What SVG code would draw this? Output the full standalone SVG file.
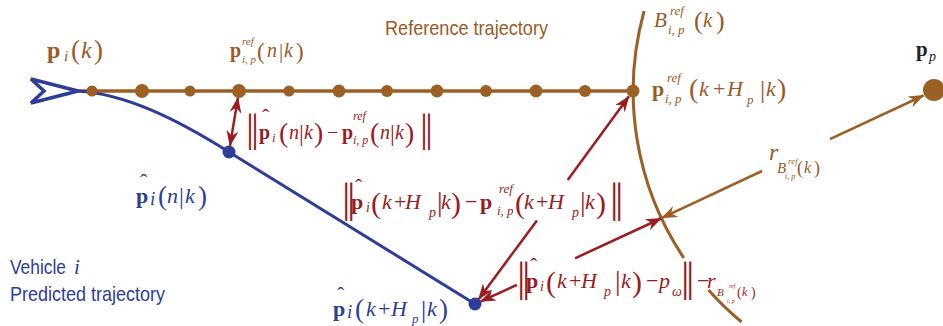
<svg xmlns="http://www.w3.org/2000/svg" width="943" height="326" viewBox="0 0 943 326">
<style>
.m{font-family:"Liberation Serif","Times New Roman",serif;}
.s{font-family:"Liberation Sans Narrow","Liberation Sans",Arial,sans-serif;}
.b{font-weight:bold;font-style:normal;}
.it{font-style:italic;}
.br{fill:#9a5b26;}
.rd{fill:#9b1c22;}
.bl{fill:#2e3e98;}
.bk{fill:#222;}
.lbr{stroke:#9c5f24;stroke-width:3.5;fill:none;}
.lbl{stroke:#2e3e98;stroke-width:3;fill:none;}
.lrd{stroke:#9b1c22;stroke-width:2.5;fill:none;}
.lbrn{stroke:#9c5f24;stroke-width:2.5;fill:none;}
</style>
<defs>
<marker id="ar" markerUnits="userSpaceOnUse" markerWidth="17" markerHeight="12" refX="15" refY="6" orient="auto-start-reverse" viewBox="0 0 17 12">
<path d="M0,0 L16,6 L0,12 L5,6 z" fill="#9b1c22"/>
</marker>
<marker id="ab" markerUnits="userSpaceOnUse" markerWidth="17" markerHeight="12" refX="15" refY="6" orient="auto-start-reverse" viewBox="0 0 17 12">
<path d="M0,0 L16,6 L0,12 L5,6 z" fill="#9c5f24"/>
</marker>
</defs>

<g id="reference-trajectory">
<line class="lbr" x1="78" y1="91" x2="633" y2="91"/>
</g>
<g id="predicted-trajectory">
<path class="lbl" d="M78,91 C125,94 175,118 229,152 L475,304"/>
</g>
<g id="boundary">
<path class="lbr" style="stroke-width:3" d="M644.1,11 A300,300 0 0 0 683.8,258"/>
<path class="lbr" style="stroke-width:3" d="M708.5,290 A300,300 0 0 0 741.6,322"/>
</g>
<g id="ref-points" fill="#9c5f24">
<circle cx="92" cy="91" r="5.5"/>
<circle cx="142" cy="91" r="7"/>
<circle cx="190" cy="91" r="5.5"/>
<circle cx="239" cy="91" r="7"/>
<circle cx="289" cy="91" r="5.5"/>
<circle cx="339" cy="91" r="6.5"/>
<circle cx="387" cy="91" r="6"/>
<circle cx="437" cy="91" r="6.5"/>
<circle cx="486" cy="91" r="6"/>
<circle cx="536" cy="91" r="6.5"/>
<circle cx="585" cy="91" r="6"/>
<circle cx="633" cy="91" r="6.5"/>
</g>
<g id="obstacle">
<circle cx="934" cy="90" r="11" fill="#9c5f24"/>
</g>
<g id="predicted-points" fill="#2e3e98">
<circle cx="229" cy="152" r="6.5"/>
<circle cx="475" cy="304" r="6.5"/>
</g>
<g id="vehicle">
<polygon points="31,79 78,91 31,103 44,91" fill="#fff" stroke="#2e3e98" stroke-width="3.5" stroke-linejoin="miter"/>
</g>

<g id="connectors">
<line class="lrd" x1="237.9" y1="97.9" x2="230" y2="145.6" marker-start="url(#ar)" marker-end="url(#ar)"/>
<line class="lrd" x1="567.7" y1="180" x2="628.8" y2="96.6" marker-end="url(#ar)"/>
<line class="lrd" x1="537" y1="220.4" x2="478.8" y2="298.9" marker-end="url(#ar)"/>
<line class="lrd" x1="517" y1="284.8" x2="480.8" y2="301.4" marker-end="url(#ar)"/>
<line class="lrd" x1="575" y1="258.3" x2="661" y2="218.5" marker-end="url(#ar)"/>
<line class="lbrn" x1="830" y1="139.2" x2="923.5" y2="95.5" marker-end="url(#ab)"/>
<line class="lbrn" x1="762" y1="171" x2="662" y2="217.8" marker-end="url(#ab)"/>
</g>

<g id="label-reference">
<text class="s br" x="385" y="35" font-size="21" textLength="163" lengthAdjust="spacingAndGlyphs">Reference trajectory</text>
</g>
<g id="label-vehicle">
<text class="s bl" x="10" y="274" font-size="21" textLength="56" lengthAdjust="spacingAndGlyphs">Vehicle</text>
<text class="m it bl" x="74" y="274" font-size="21" font-family="'Liberation Serif', serif">i</text>
<text class="s bl" x="10" y="301" font-size="21" textLength="155" lengthAdjust="spacingAndGlyphs">Predicted trajectory</text>
</g>

<g id="label-pi">
<text class="m br" font-family="'Liberation Serif', serif" font-size="24"><tspan class="b" x="47" y="58">p</tspan><tspan class="it" x="64" y="61" font-size="15">i</tspan><tspan x="71" y="59" font-size="27">(</tspan><tspan class="it" x="81" y="58">k</tspan><tspan x="94" y="59" font-size="27">)</tspan></text>
</g>
<g id="label-pref-n">
<text class="m br" font-family="'Liberation Serif', serif" font-size="20"><tspan class="b" x="230" y="57">p</tspan><tspan class="it" x="242" y="45" font-size="11">ref</tspan><tspan class="it" x="242" y="63" font-size="11">i, p</tspan><tspan x="257" y="59" font-size="23">(</tspan><tspan class="it" x="267" y="57">n</tspan><tspan x="279" y="58" font-size="21">|</tspan><tspan class="it" x="284" y="57">k</tspan><tspan x="296" y="59" font-size="23">)</tspan></text>
</g>
<g id="label-B">
<text class="m br" font-family="'Liberation Serif', serif" font-size="21"><tspan class="it" x="654" y="27">B</tspan><tspan class="it" x="670" y="15" font-size="13">ref</tspan><tspan class="it" x="668" y="34" font-size="13">i, p</tspan><tspan x="694" y="29" font-size="26">(</tspan><tspan class="it" x="703" y="27">k</tspan><tspan x="716" y="29" font-size="26">)</tspan></text>
</g>
<g id="label-pref-H">
<text class="m br" font-family="'Liberation Serif', serif" font-size="22"><tspan class="b" x="652" y="96">p</tspan><tspan class="it" x="667" y="82" font-size="13">ref</tspan><tspan class="it" x="665" y="103" font-size="13">i, p</tspan><tspan x="689" y="98" font-size="28">(</tspan><tspan class="it" x="699" y="96">k</tspan><tspan x="713" y="96">+</tspan><tspan class="it" x="727" y="96">H</tspan><tspan class="it" x="747" y="104" font-size="13">p</tspan><tspan x="760" y="98" font-size="26">|</tspan><tspan class="it" x="766" y="96">k</tspan><tspan x="777" y="98" font-size="28">)</tspan></text>
</g>
<g id="label-pp">
<text class="m bk" font-family="'Liberation Serif', serif" font-size="21"><tspan class="b" x="916" y="56">p</tspan><tspan class="it" x="929" y="61" font-size="14">p</tspan></text>
</g>
<g id="label-r">
<text class="m br" font-family="'Liberation Serif', serif" font-size="24"><tspan class="it" x="769" y="160">r</tspan><tspan class="it" x="777" y="173" font-size="15">B</tspan><tspan class="it" x="788" y="164" font-size="9">ref</tspan><tspan class="it" x="785" y="179" font-size="8">i, p</tspan><tspan x="797" y="174" font-size="18">(</tspan><tspan class="it" x="804" y="173" font-size="16">k</tspan><tspan x="814" y="174" font-size="18">)</tspan></text>
</g>
<g id="label-phat-n">
<text class="m bl" font-family="'Liberation Serif', serif" font-size="22"><tspan x="140" y="189">ˆ</tspan><tspan class="b" x="136" y="203">p</tspan><tspan class="it" x="150" y="205" font-size="19">i</tspan><tspan x="158" y="205" font-size="27">(</tspan><tspan class="it" x="167" y="203">n</tspan><tspan x="179" y="204" font-size="24">|</tspan><tspan class="it" x="185" y="203">k</tspan><tspan x="198" y="205" font-size="27">)</tspan></text>
</g>
<g id="label-phat-H">
<text class="m bl" font-family="'Liberation Serif', serif" font-size="22"><tspan x="337" y="302">ˆ</tspan><tspan class="b" x="333" y="316">p</tspan><tspan class="it" x="347" y="318" font-size="19">i</tspan><tspan x="355" y="318" font-size="27">(</tspan><tspan class="it" x="366" y="316">k</tspan><tspan x="378" y="316">+</tspan><tspan class="it" x="391" y="316">H</tspan><tspan class="it" x="412" y="323" font-size="13">p</tspan><tspan x="421" y="318" font-size="26">|</tspan><tspan class="it" x="427" y="316">k</tspan><tspan x="439" y="318" font-size="27">)</tspan></text>
</g>
<g id="label-dist-n">
<text class="m rd" font-family="'Liberation Serif', serif" font-size="20"><tspan x="246 251" y="141" font-size="40">||</tspan><tspan x="262" y="124" font-size="22">ˆ</tspan><tspan class="b" x="259" y="139">p</tspan><tspan class="it" x="272" y="142" font-size="13">i</tspan><tspan x="279" y="142" font-size="28">(</tspan><tspan class="it" x="289" y="139">n</tspan><tspan x="299" y="141" font-size="24">|</tspan><tspan class="it" x="304" y="139">k</tspan><tspan x="314" y="142" font-size="28">)</tspan><tspan x="327" y="139">−</tspan><tspan class="b" x="342" y="139">p</tspan><tspan class="it" x="353" y="120" font-size="12">ref</tspan><tspan class="it" x="353" y="144" font-size="12">i, p</tspan><tspan x="370" y="142" font-size="28">(</tspan><tspan class="it" x="380" y="139">n</tspan><tspan x="390" y="141" font-size="24">|</tspan><tspan class="it" x="395" y="139">k</tspan><tspan x="405" y="142" font-size="28">)</tspan><tspan x="420 425" y="141" font-size="40">||</tspan></text>
</g>
<g id="label-dist-H">
<text class="m rd" font-family="'Liberation Serif', serif" font-size="22"><tspan x="342 347" y="212" font-size="42">||</tspan><tspan x="355" y="194" font-size="22">ˆ</tspan><tspan class="b" x="351" y="209">p</tspan><tspan class="it" x="366" y="212" font-size="14">i</tspan><tspan x="371" y="213" font-size="30">(</tspan><tspan class="it" x="382" y="209">k</tspan><tspan x="394" y="209">+</tspan><tspan class="it" x="405" y="209">H</tspan><tspan class="it" x="429" y="217" font-size="14">p</tspan><tspan x="437" y="211" font-size="28">|</tspan><tspan class="it" x="441" y="209">k</tspan><tspan x="451" y="213" font-size="30">)</tspan><tspan x="465" y="209">−</tspan><tspan class="b" x="480" y="209">p</tspan><tspan class="it" x="499" y="193" font-size="13">ref</tspan><tspan class="it" x="497" y="215" font-size="13">i, p</tspan><tspan x="515" y="213" font-size="30">(</tspan><tspan class="it" x="524" y="209">k</tspan><tspan x="536" y="209">+</tspan><tspan class="it" x="548" y="209">H</tspan><tspan class="it" x="572" y="217" font-size="14">p</tspan><tspan x="580" y="211" font-size="28">|</tspan><tspan class="it" x="585" y="209">k</tspan><tspan x="596" y="213" font-size="30">)</tspan><tspan x="610 615" y="212" font-size="42">||</tspan></text>
</g>
<g id="label-dist-obs">
<text class="m rd" font-family="'Liberation Serif', serif" font-size="22"><tspan x="517 522" y="291" font-size="42">||</tspan><tspan x="530" y="273" font-size="22">ˆ</tspan><tspan class="b" x="526" y="288">p</tspan><tspan class="it" x="540" y="291" font-size="14">i</tspan><tspan x="546" y="292" font-size="30">(</tspan><tspan class="it" x="557" y="288">k</tspan><tspan x="569" y="288">+</tspan><tspan class="it" x="581" y="288">H</tspan><tspan class="it" x="604" y="296" font-size="14">p</tspan><tspan x="615" y="290" font-size="28">|</tspan><tspan class="it" x="621" y="288">k</tspan><tspan x="632" y="292" font-size="30">)</tspan><tspan x="646" y="288">−</tspan><tspan class="it" x="659" y="288">p</tspan><tspan class="it" x="672" y="296" font-size="14">ω</tspan><tspan x="681 686" y="291" font-size="42">||</tspan><tspan x="697" y="288">−</tspan><tspan class="it" x="707" y="288">r</tspan><tspan class="it" x="717" y="296" font-size="11">B</tspan><tspan class="it" x="729" y="288" font-size="6">ref</tspan><tspan class="it" x="727" y="303" font-size="6">i, p</tspan><tspan x="737" y="297" font-size="14">(</tspan><tspan class="it" x="742" y="296" font-size="12">k</tspan><tspan x="751" y="297" font-size="14">)</tspan></text>
</g>
</svg>
